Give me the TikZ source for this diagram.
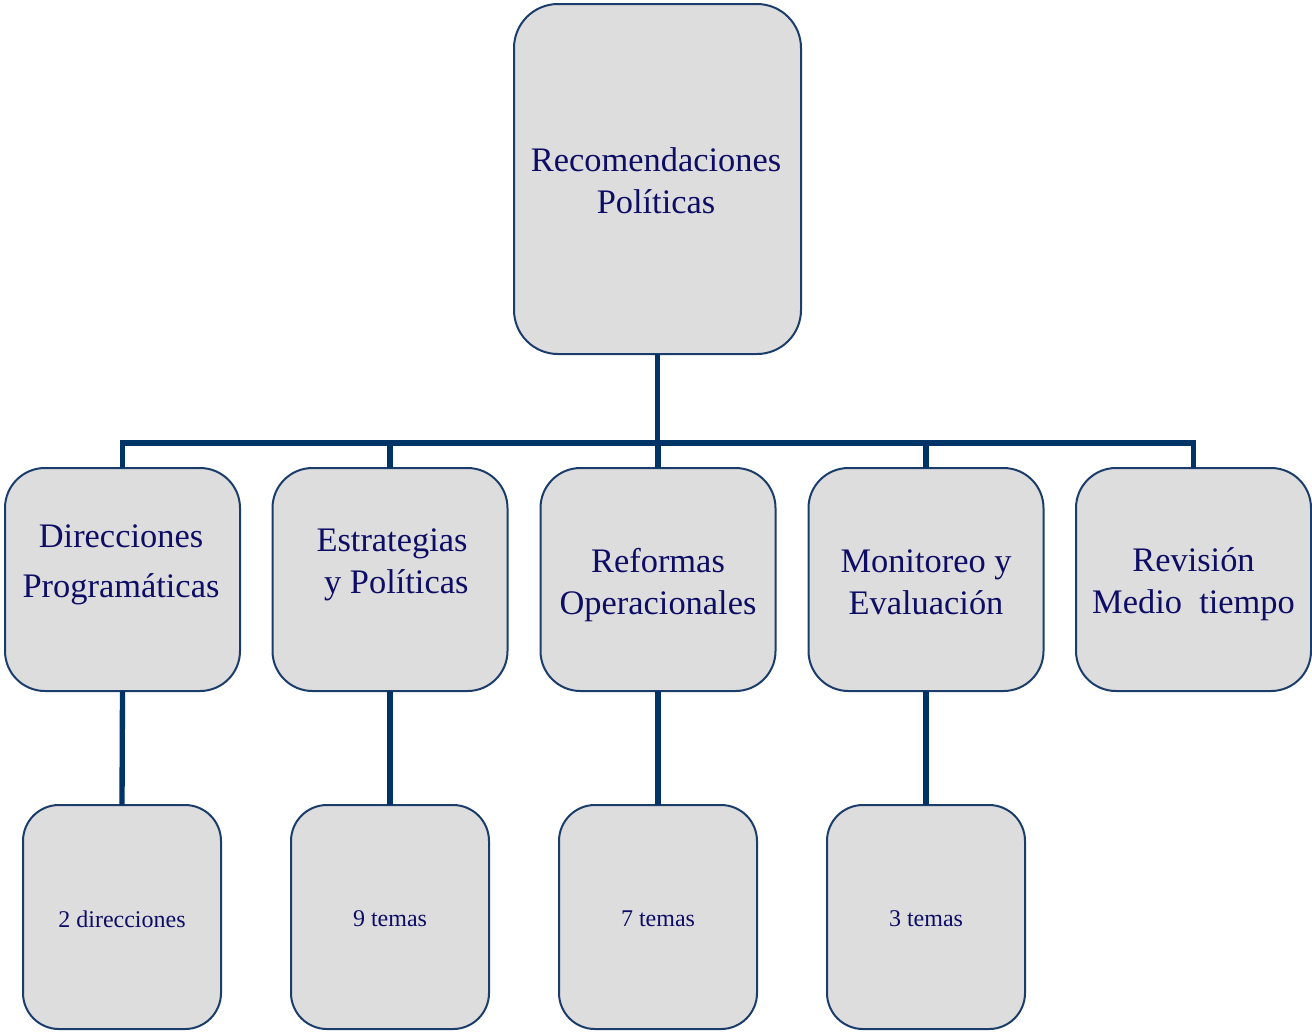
\documentclass[tikz,border=0pt]{standalone}
\usepackage{fontspec}
\setmainfont{Liberation Serif}
\definecolor{conncol}{RGB}{0,51,102}
\definecolor{bordercol}{RGB}{26,61,107}
\definecolor{boxfill}{RGB}{221,221,221}
\definecolor{textcol}{RGB}{13,13,102}
\begin{document}
\begin{tikzpicture}[x=0.75pt,y=-0.75pt,
  box/.style={draw=bordercol,fill=boxfill,line width=1.5pt,outer sep=0pt,inner sep=0pt},
  topbox/.style={box,minimum width={287*0.75pt},minimum height={350*0.75pt},rounded corners=33pt},
  midbox/.style={box,minimum width={235*0.75pt},minimum height={223*0.75pt},rounded corners=30pt},
  botbox/.style={box,minimum width={198*0.75pt},minimum height={224*0.75pt},rounded corners=27pt},
  bigtext/.style={text=textcol,align=center,font=\fontsize{25.8}{31.5}\selectfont,inner sep=0pt},
  smalltext/.style={text=textcol,align=center,font=\fontsize{18}{22}\selectfont,inner sep=0pt},
  conn/.style={draw=conncol,line width=4pt,line join=miter}]
\useasboundingbox (0,0) rectangle (1312,1032);
% boxes
\node[topbox] (top) at (657.5,179) {};
\node[midbox] (m1) at (122.5,579.5) {};
\node[midbox] (m2) at (390,579.5) {};
\node[midbox] (m3) at (658,579.5) {};
\node[midbox] (m4) at (926,579.5) {};
\node[midbox] (m5) at (1193.5,579.5) {};
\node[botbox] (b1) at (122,917) {};
\node[botbox] (b2) at (390,917) {};
\node[botbox] (b3) at (658,917) {};
\node[botbox] (b4) at (926,917) {};
% connectors
\coordinate (busy) at (0,443);
\draw[conn] (top.south) -- (top.south |- busy);
\draw[conn] (m1.north) |- (m5.north |- busy) -- (m5.north);
\draw[conn] (m2.north) -- (m2.north |- busy);
\draw[conn] (m3.north) -- (m3.north |- busy);
\draw[conn] (m4.north) -- (m4.north |- busy);
\draw[conn] (m1.south) -- (b1.north);
\draw[conn] (m2.south) -- (b2.north);
\draw[conn] (m3.south) -- (b3.north);
\draw[conn] (m4.south) -- (b4.north);
% texts
\node[bigtext] (t0) at (656,181) {Recomendaciones\\Políticas};
\node[bigtext,font=\fontsize{25.8}{37.5}\selectfont] (t1) at (121,565) {Direcciones\\Programáticas};
\node[bigtext] (t2) at (392,565) {Estrategias\\\ y Políticas};
\node[bigtext] (t3) at (658,585) {Reformas\\Operacionales};
\node[bigtext] (t4) at (926,582) {Monitoreo y\\Evaluación};
\node[bigtext] (t5) at (1193.5,584) {Revisión\\Medio\ \ tiempo};
\node[smalltext] (s1) at (122,919) {2 direcciones};
\node[smalltext] (s2) at (390,919) {9 temas};
\node[smalltext] (s3) at (658,919) {7 temas};
\node[smalltext] (s4) at (926,919) {3 temas};
\end{tikzpicture}
\end{document}
